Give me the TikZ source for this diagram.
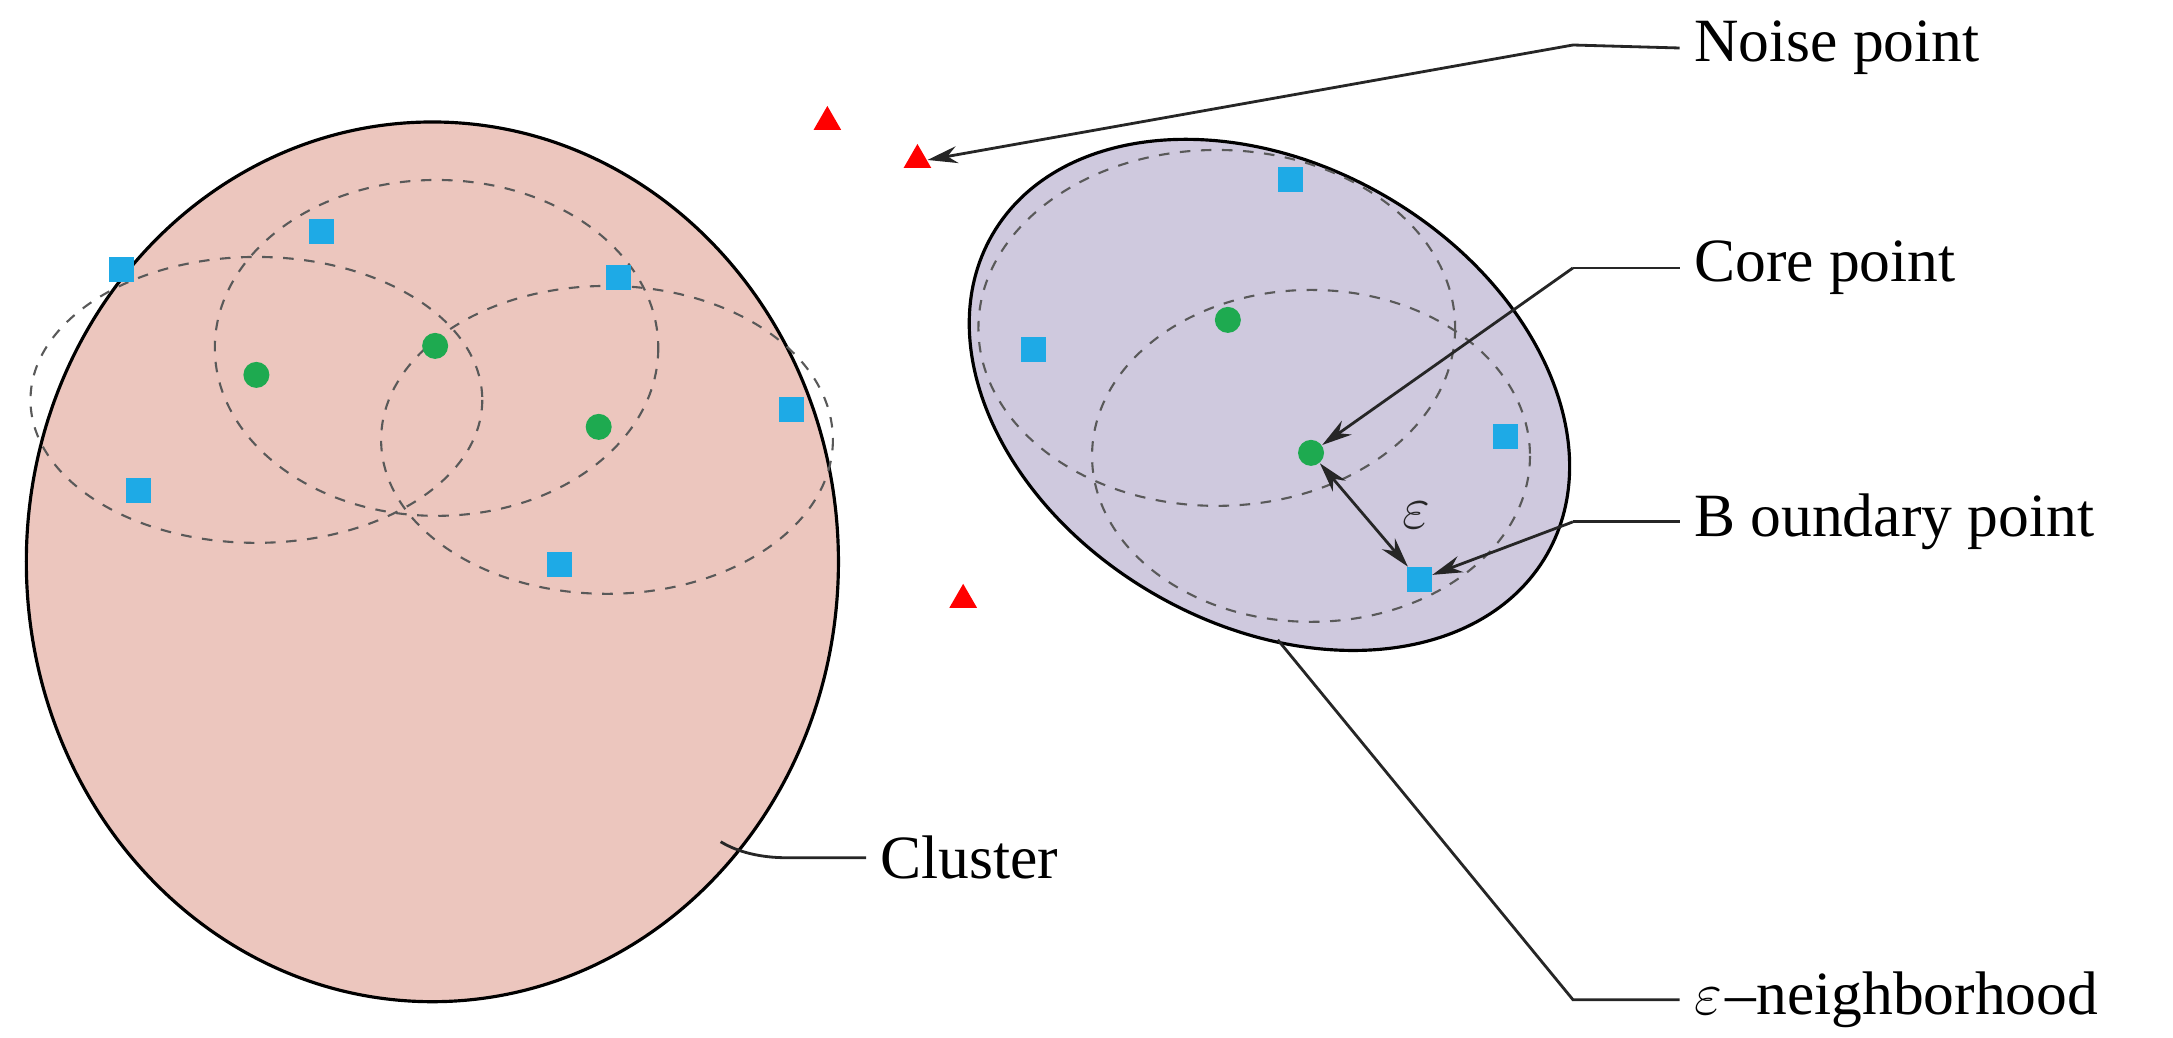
\documentclass[tikz,border=0pt]{standalone}
\usepackage{fontspec}
\setmainfont{Liberation Serif}
\usetikzlibrary{arrows.meta,shapes.geometric}
\definecolor{pinkf}{RGB}{236,198,190}
\definecolor{lavf}{RGB}{207,201,222}
\definecolor{bluep}{RGB}{30,170,230}
\definecolor{greenp}{RGB}{30,170,80}
\begin{document}
\begin{tikzpicture}[x=0.01386cm,y=-0.01cm,
  sq/.style={fill=bluep,draw=none,minimum size=0.25cm,inner sep=0pt,rectangle},
  dot/.style={fill=greenp,draw=none,minimum size=0.26cm,inner sep=0pt,circle},
  tri/.style={fill=red,draw=none,regular polygon,regular polygon sides=3,minimum size=0.32cm,inner sep=0pt},
  dsh/.style={dashed,draw=black!65,line width=0.6pt},
  lbl/.style={anchor=west,font=\fontsize{17.5pt}{20pt}\selectfont,inner sep=0pt},
  ln/.style={line width=0.8pt,black!85},
  arr/.style={ln,-{Stealth[length=0.3cm,width=0.17cm]}}]
\useasboundingbox (0,0) rectangle (1568,1038);
\draw[fill=pinkf,line width=0.9pt] (312,562) ellipse [x radius=293,y radius=440];
\draw[fill=lavf,line width=0.9pt,rotate around={-30:(916,395)}] (916,395) ellipse [x radius=3.2cm,y radius=2.3cm];
\draw[dsh] (185,400) ellipse [x radius=163,y radius=143];
\draw[dsh] (315,348) ellipse [x radius=160,y radius=168];
\draw[dsh] (438,440) ellipse [x radius=163,y radius=154];
\draw[dsh] (878,328) ellipse [x radius=172,y radius=178];
\draw[dsh] (946,456) ellipse [x radius=158,y radius=166];
\foreach \n/\p in {s1/{(88,270)},s2/{(232,232)},s3/{(446,278)},s4/{(571,410)},s5/{(100,491)},s6/{(404,565)},s7/{(931,180)},s8/{(746,350)},s9/{(1086,437)}}
  \node[sq] (\n) at \p {};
\node[sq] (bp) at (1024,580) {};
\foreach \n/\p in {g1/{(185,375)},g2/{(314,346)},g3/{(432,427)},g4/{(886,320)}}
  \node[dot] (\n) at \p {};
\node[dot] (cp) at (946,453) {};
\node[tri] (t1) at (597,122) {};
\node[tri] (t2) at (662,160) {};
\node[tri] (t3) at (695,600) {};
\node[lbl] (noise) at (1222,48) {Noise point};
\node[lbl] (core) at (1222,268) {Core point};
\node[lbl] (bound) at (1222,522) {B oundary point};
\node[lbl] (clus) at (635,858) {Cluster};
\node[lbl] (eps) at (1222,1000) {$\varepsilon$\kern1pt--neighborhood};
\coordinate (n1) at (1135,45);
\coordinate (c1) at (1135,268);
\coordinate (b1) at (1135,522);
\coordinate (e1) at (1135,1000);
\coordinate (k1) at (568,858);
\coordinate (k2) at (520,842);
\coordinate (e2) at (922,640);
\draw[ln] (noise.west) ++(-10,0) -- (n1);
\draw[arr] (n1) -- (t2.east);
\draw[ln] (core.west) ++(-10,0) -- (c1);
\draw[arr] (c1) -- (cp);
\draw[ln] (bound.west) ++(-10,0) -- (b1);
\draw[arr] (b1) -- (bp);
\draw[ln] (eps.west) ++(-10,0) -- (e1) -- (e2);
\draw[ln] (clus.west) ++(-10,0) -- (k1) .. controls (548,858) and (532,852) .. (k2);
\draw[ln,{Stealth[length=0.3cm,width=0.17cm]}-{Stealth[length=0.3cm,width=0.17cm]}] (cp) -- (bp) node[midway,right=0.25cm,font=\fontsize{17.5pt}{20pt}\selectfont] {$\varepsilon$};
\end{tikzpicture}
\end{document}
